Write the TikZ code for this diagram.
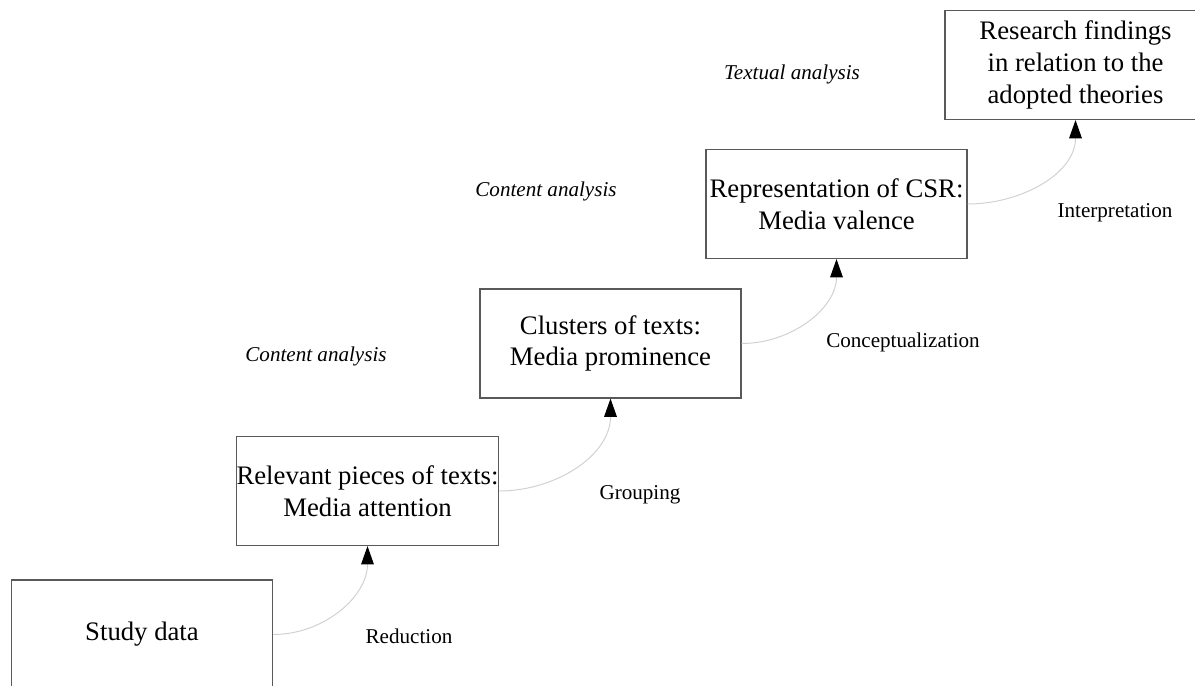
\documentclass[tikz,border=0pt]{standalone}
\usepackage{fontspec}
\setmainfont{Liberation Serif}
\usepackage{xcolor}
\usepackage{tikz}
\usetikzlibrary{arrows.meta}

\tikzset{
  etape/.style={draw=black!65, line width=0.8pt, minimum width=6.525cm, minimum height=2.725cm,
    inner sep=0pt, align=center, font=\fontsize{19}{22.5}\selectfont},
  lien/.style={draw=black!18, line width=0.7pt, -{Triangle[length=13pt, width=9pt, color=black]}},
  etiq/.style={font=\fontsize{15}{18}\selectfont},
  methode/.style={font=\fontsize{15}{18}\selectfont\itshape}
}

\begin{document}
\begin{tikzpicture}[x=0.025cm, y=-0.025cm]

        \useasboundingbox (0,0) rectangle (1195,685);
        \clip (0,0) rectangle (1195,685);

        % Etapes (boites)
        \node [etape] (donnees) at (142,634.5) {Study data};
        \node [etape] (pertinents) at (367.5,491) {Relevant pieces of texts:\\Media attention};
        \node [etape] (groupes) at (610.5,343.5) {Clusters of texts:\\Media prominence};
        \node [etape] (valence) at (836.5,204) {Representation of CSR:\\Media valence};
        \node [etape] (resultats) at (1075.5,65) {Research findings\\in relation to the\\adopted theories};

        % Etiquettes des fleches
        \node [etiq] (reduction) at (409,636) {Reduction};
        \node [etiq] (groupement) at (640,495) {Grouping};
        \node [etiq] (concept) at (903,342) {Conceptualization};
        \node [etiq] (interp) at (1115,213) {Interpretation};

        % Methodes
        \node [methode] (contenuA) at (316,356) {Content analysis};
        \node [methode] (contenuB) at (546,191) {Content analysis};
        \node [methode] (textuelle) at (792,74) {Textual analysis};

        % Fleches courbes
        \draw [lien] (donnees.east) to[out=0, in=-90] (pertinents.south);
        \draw [lien] (pertinents.east) to[out=0, in=-90] (groupes.south);
        \draw [lien] (groupes.east) to[out=0, in=-90] (valence.south);
        \draw [lien] (valence.east) to[out=0, in=-90] (resultats.south);

\end{tikzpicture}
\end{document}
